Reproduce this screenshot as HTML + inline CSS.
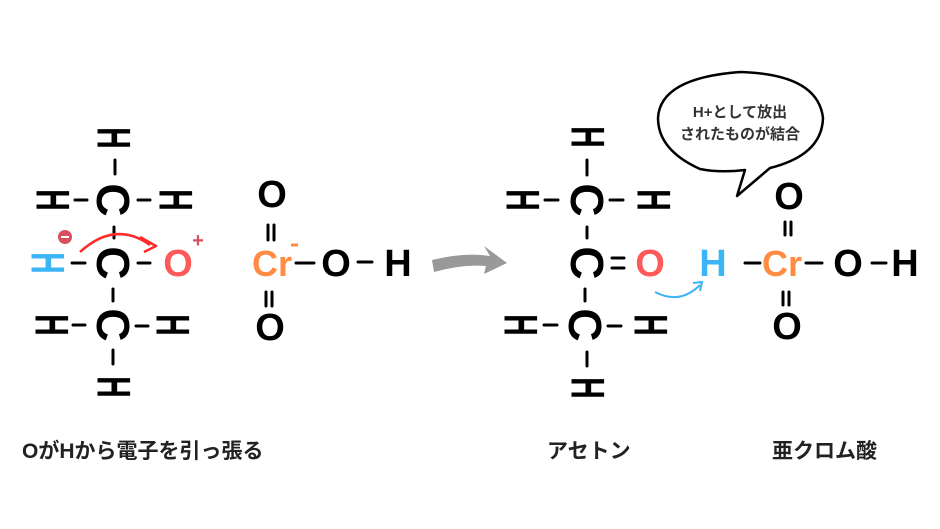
<!DOCTYPE html>
<html><head><meta charset="utf-8"><style>
html,body{margin:0;padding:0;background:#fff;}
svg{display:block;}
text{font-family:"Liberation Sans","Noto Sans CJK JP",sans-serif;font-weight:bold;}
</style></head><body>
<svg width="940" height="529" viewBox="0 0 940 529" xmlns="http://www.w3.org/2000/svg">
<defs>
<g id="rh"><text x="0" y="0" font-size="50" text-anchor="middle" dominant-baseline="central" transform="rotate(90) scale(0.6,0.95)">H</text></g>
<g id="rc"><text x="0" y="0" font-size="46" text-anchor="middle" dominant-baseline="central" transform="rotate(90)">C</text></g>
</defs>
<g fill="#000" stroke="none">
<use href="#rh" x="113" y="138"/>
<use href="#rh" x="52" y="200"/>
<use href="#rc" x="113" y="200"/>
<use href="#rh" x="175" y="200"/>
<use href="#rc" x="113" y="263"/>
<use href="#rh" x="51" y="325"/>
<use href="#rc" x="113" y="325"/>
<use href="#rh" x="172" y="325"/>
<use href="#rh" x="113" y="387"/>
</g>
<g fill="#3cb4f5"><use href="#rh" x="47" y="263"/></g>
<g stroke="#000" stroke-width="3" stroke-linecap="round">
<line x1="115" y1="160" x2="115" y2="174"/>
<line x1="75" y1="200" x2="87" y2="200"/>
<line x1="138" y1="200" x2="150" y2="200"/>
<line x1="114" y1="227" x2="114" y2="238"/>
<line x1="72" y1="263" x2="85" y2="263"/>
<line x1="138" y1="263" x2="150" y2="263"/>
<line x1="113" y1="289" x2="113" y2="301"/>
<line x1="73" y1="325" x2="85" y2="325"/>
<line x1="136" y1="326" x2="148" y2="326"/>
<line x1="113" y1="350" x2="113" y2="364"/>
<line x1="268" y1="225" x2="268" y2="240"/><line x1="274" y1="225" x2="274" y2="240"/>
<line x1="266" y1="292" x2="266" y2="306"/><line x1="272" y1="292" x2="272" y2="306"/>
<line x1="296" y1="263" x2="314" y2="263"/>
<line x1="358" y1="262" x2="372" y2="262"/>
</g>
<circle cx="65" cy="237" r="7" fill="#d94f5f"/>
<line x1="61" y1="237" x2="69" y2="237" stroke="#fff" stroke-width="2"/>
<text x="178" y="276" font-size="38" fill="#ff5a5a" text-anchor="middle">O</text>
<text x="198" y="247" font-size="20" fill="#d94f5f" text-anchor="middle">+</text>
<path d="M80 252 Q115 220 150 245" fill="none" stroke="#ff2a2a" stroke-width="2.5"/>
<path d="M140 237 L156 246 L144 252" fill="none" stroke="#ff2a2a" stroke-width="2.5" stroke-linejoin="round"/>
<text x="272" y="207" font-size="38" text-anchor="middle">O</text>
<text x="270" y="340" font-size="38" text-anchor="middle">O</text>
<text x="272" y="276" font-size="36" fill="#ff8c42" text-anchor="middle">Cr</text>
<line x1="291" y1="245" x2="298" y2="245" stroke="#ff8c42" stroke-width="3"/>
<text x="336" y="276" font-size="38" text-anchor="middle">O</text>
<text x="398" y="276" font-size="38" text-anchor="middle">H</text>
<path d="M432 260 Q465 252 490 256 L484 246 L507 263 L484 274 L486 266 Q462 264 434 272 Z" fill="#999"/>
<g fill="#000">
<use href="#rh" x="587" y="137"/>
<use href="#rh" x="522" y="200"/>
<use href="#rc" x="587" y="200"/>
<use href="#rh" x="653" y="200"/>
<use href="#rc" x="587" y="263"/>
<use href="#rh" x="520" y="325"/>
<use href="#rc" x="585" y="325"/>
<use href="#rh" x="650" y="325"/>
<use href="#rh" x="587" y="388"/>
</g>
<g stroke="#000" stroke-width="3" stroke-linecap="round">
<line x1="587" y1="160" x2="587" y2="175"/>
<line x1="545" y1="200" x2="558" y2="200"/>
<line x1="610" y1="200" x2="623" y2="200"/>
<line x1="587" y1="227" x2="587" y2="238"/>
<line x1="612" y1="258" x2="624" y2="258"/><line x1="612" y1="268" x2="624" y2="268"/>
<line x1="585" y1="289" x2="585" y2="301"/>
<line x1="544" y1="325" x2="557" y2="325"/>
<line x1="608" y1="326" x2="621" y2="326"/>
<line x1="587" y1="352" x2="587" y2="366"/>
<line x1="745" y1="263" x2="760" y2="263"/>
<line x1="785" y1="222" x2="785" y2="235"/><line x1="791" y1="222" x2="791" y2="235"/>
<line x1="783" y1="292" x2="783" y2="305"/><line x1="789" y1="292" x2="789" y2="305"/>
<line x1="806" y1="263" x2="822" y2="263"/>
<line x1="872" y1="263" x2="886" y2="263"/>
</g>
<text x="650" y="276" font-size="38" fill="#ff5a5a" text-anchor="middle">O</text>
<text x="713" y="276" font-size="38" fill="#3cb4f5" text-anchor="middle">H</text>
<text x="782" y="276" font-size="36" fill="#ff8c42" text-anchor="middle">Cr</text>
<text x="789" y="209" font-size="38" text-anchor="middle">O</text>
<text x="787" y="339" font-size="38" text-anchor="middle">O</text>
<text x="848" y="276" font-size="38" text-anchor="middle">O</text>
<text x="905" y="276" font-size="38" text-anchor="middle">H</text>
<path d="M655 292 Q680 305 700 285" fill="none" stroke="#3cb4f5" stroke-width="2"/>
<path d="M693 283 L702 282 L700 291" fill="none" stroke="#3cb4f5" stroke-width="2"/>
<path d="M700 169 Q658 150 658 118 Q660 78 740 72 Q818 74 823 118 Q822 155 770 168 L737 196 L745 170 Q720 173 700 169 Z" fill="#fff" stroke="#000" stroke-width="2.5" stroke-linejoin="round"/>
<text x="740" y="117" font-size="15" text-anchor="middle" fill="#333">H+として放出</text>
<text x="740" y="139" font-size="15" text-anchor="middle" fill="#333">されたものが結合</text>
<text x="22" y="458" font-size="21" fill="#222">OがHから電子を引っ張る</text>
<text x="547" y="458" font-size="21" fill="#222">アセトン</text>
<text x="772" y="458" font-size="21" fill="#222">亜クロム酸</text>
</svg>
</body></html>
